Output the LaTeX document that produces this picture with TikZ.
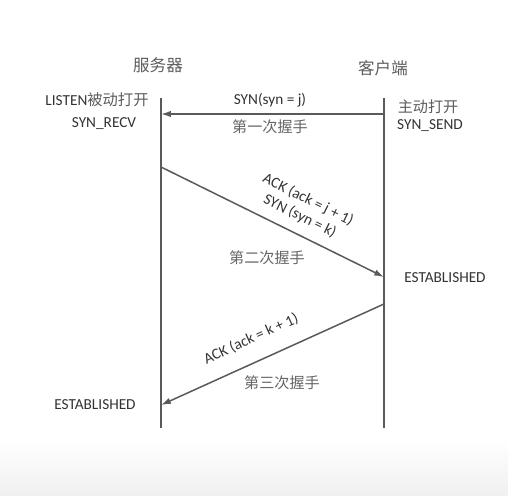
\documentclass[tikz,border=0pt]{standalone}
\usepackage{fontspec}
\setmainfont{Carlito}
\newfontfamily\cjk{Noto Sans CJK SC}
\usepackage{tikz}
\usetikzlibrary{arrows.meta}
\definecolor{inkgray}{HTML}{333333}
\definecolor{linegray}{HTML}{5A5A5A}
\tikzset{
	lifeline/.style={line width=0.35mm, color=linegray},
	msg/.style={line width=0.3mm, color=linegray, -{Latex[length=5.6pt,width=3.6pt]}},
	headtxt/.style={font=\cjk\fontsize{9.4}{11}\selectfont, text=inkgray!80},
	statetxt/.style={font=\fontsize{8.7}{10}\selectfont, text=inkgray},
	steptxt/.style={font=\cjk\fontsize{8.6}{10}\selectfont, text=inkgray!75},
	pkttxt/.style={font=\fontsize{8.7}{10.5}\selectfont, text=inkgray, align=center}
}

\begin{document}
\begin{tikzpicture}[x=0.02cm, y=-0.02cm]
			%%%%% START %%%%%
			
			\useasboundingbox (0, 0) rectangle (508, 496);
			\fill[white] (0, 0) rectangle (508, 496);
			\shade[top color=white, bottom color=black!6] (0, 440) rectangle (508, 496);
			
			\node[headtxt] (server) at (158, 65) {服务器};
			\node[headtxt] (client) at (383, 68) {客户端};
			
			\coordinate (s top) at (161, 98);
			\coordinate (s bot) at (161, 428);
			\coordinate (c top) at (384, 98);
			\coordinate (c bot) at (384, 428);
			\draw[lifeline] (s top) -- (s bot);
			\draw[lifeline] (c top) -- (c bot);
			
			\node[statetxt] (listen) at (97, 100) {LISTEN{\cjk\color{inkgray!80}被动打开}};
			\node[statetxt] (recv) at (104, 124) {SYN\_RECV};
			\node[steptxt, text=inkgray!80] (open) at (428, 107) {主动打开};
			\node[statetxt] (send) at (430, 126) {SYN\_SEND};
			
			% first handshake
			\coordinate (m1 from) at (384, 114);
			\coordinate (m1 to) at (161, 114);
			\draw[msg] (m1 from) -- (m1 to);
			\node[pkttxt] (syn) at (270, 100) {SYN(syn = j)};
			\node[steptxt] (step1) at (270, 127) {第一次握手};
			
			% second handshake
			\coordinate (m2 from) at (161, 167);
			\coordinate (m2 to) at (384, 277);
			\draw[msg] (m2 from) -- (m2 to);
			\node[pkttxt, rotate=-26.3] (synack) at (304, 208) {ACK (ack = j + 1)\\SYN (syn = k)};
			\node[steptxt] (step2) at (267, 258) {第二次握手};
			\node[statetxt] (est c) at (445, 278) {ESTABLISHED};
			
			% third handshake
			\coordinate (m3 from) at (384, 304);
			\coordinate (m3 to) at (161, 405);
			\draw[msg] (m3 from) -- (m3 to);
			\node[pkttxt, rotate=24.6] (ack) at (251, 339) {ACK (ack = k + 1)};
			\node[steptxt] (step3) at (282, 383) {第三次握手};
			\node[statetxt] (est s) at (95, 405) {ESTABLISHED};
			
			%%%%% END %%%%%
\end{tikzpicture}
\end{document}
